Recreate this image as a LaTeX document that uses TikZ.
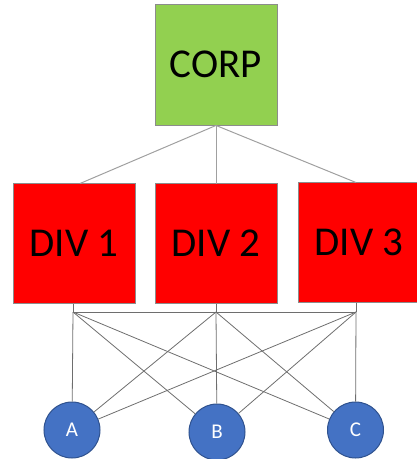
\documentclass[tikz,border=0pt]{standalone}
\usepackage{fontspec}
\setmainfont{Carlito}
\definecolor{corpgreen}{HTML}{92D050}
\definecolor{divred}{HTML}{FF0000}
\definecolor{circblue}{HTML}{4472C4}
\definecolor{circedge}{HTML}{2F528F}
\definecolor{boxedge}{HTML}{8C8C8C}
\definecolor{upline}{HTML}{A0A0A0}
\definecolor{lowline}{HTML}{6E6E6E}
\begin{document}
\begin{tikzpicture}[x=1pt,y=-1pt,
  corpbox/.style={draw=boxedge, line width=0.9pt, fill=corpgreen, minimum width=122pt, minimum height=121pt, inner sep=0pt, font=\fontsize{41}{41}\selectfont},
  divbox/.style={draw=boxedge, line width=0.9pt, fill=divred, minimum width=122pt, minimum height=120pt, inner sep=0pt, font=\fontsize{41}{41}\selectfont},
  leaf/.style={circle, draw=circedge, line width=1pt, fill=circblue, minimum size=56pt, inner sep=0pt, text=white, font=\fontsize{21}{21}\selectfont},
  upconn/.style={draw=upline, line width=1pt},
  lowconn/.style={draw=lowline, line width=0.8pt}]
\clip (0,0) rectangle (417,459);
\useasboundingbox (0,0) rectangle (417,459);
\node[corpbox] (corp) at (216,64.5) {CORP};
\node[divbox] (div1) at (74,243.5) {DIV 1};
\node[divbox] (div2) at (216,243.5) {DIV 2};
\node[divbox] (div3) at (359,242.5) {DIV 3};
\coordinate (t1) at (80,183.5);
\coordinate (t2) at (216,183.5);
\coordinate (t3) at (356,182.5);
\coordinate (b1) at (73,303.5);
\coordinate (b2) at (216,303.5);
\coordinate (b3) at (356,302.5);
\coordinate (j1) at (73,312);
\coordinate (j2) at (216,312);
\coordinate (j3) at (356,312);
\node[leaf] (A) at (72,430) {A};
\node[leaf] (B) at (217,432) {B};
\node[leaf] (C) at (355.5,430) {C};
\draw[upconn] (corp.south) -- (t1);
\draw[upconn] (corp.south) -- (t2);
\draw[upconn] (corp.south) -- (t3);
\draw[lowconn] (b1) -- (j1);
\draw[lowconn] (b2) -- (j2);
\draw[lowconn] (b3) -- (j3);
\draw[lowconn] (j1) -- (j3);
\draw[lowconn] (j1) -- (A);
\draw[lowconn] (j1) -- (B);
\draw[lowconn] (j1) -- (C);
\draw[lowconn] (j2) -- (A);
\draw[lowconn] (j2) -- (B);
\draw[lowconn] (j2) -- (C);
\draw[lowconn] (j3) -- (A);
\draw[lowconn] (j3) -- (B);
\draw[lowconn] (j3) -- (C);
\end{tikzpicture}
\end{document}
